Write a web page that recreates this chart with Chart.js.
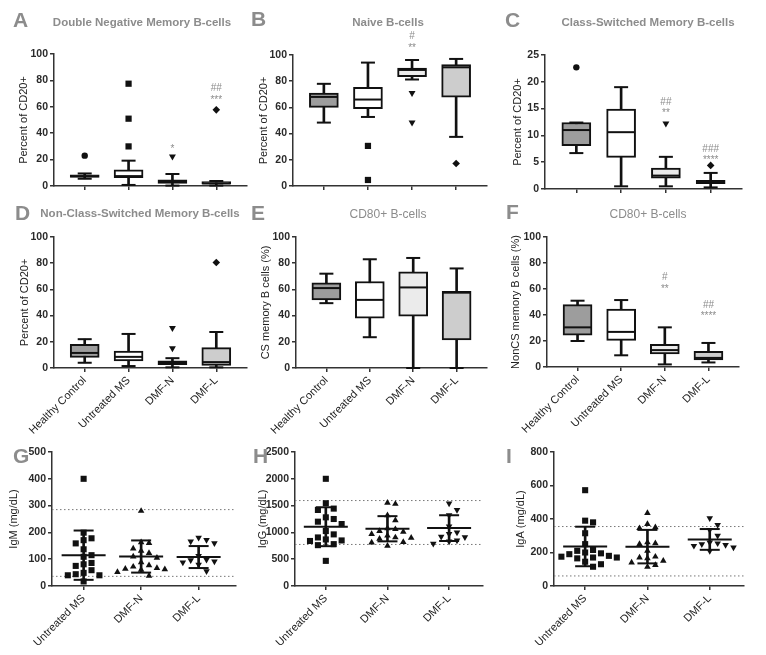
<!DOCTYPE html>
<html>
<head>
<meta charset="utf-8">
<script src="https://cdn.jsdelivr.net/npm/chart.js@4.4.0/dist/chart.umd.min.js"></script>
<style>
body{margin:0;background:#fff;}
#fig{position:relative;width:766px;height:655px;overflow:hidden;background:#fff;font-family:"Liberation Sans",Arial,sans-serif;}
#fig canvas{position:absolute;}
.lt{position:absolute;font-weight:bold;font-size:21px;line-height:1;color:#8c8c8c;}
.tt{position:absolute;line-height:1;color:#8c8c8c;white-space:nowrap;transform:translate(-50%,-50%);}
</style>
</head>
<body>
<div id="fig"></div>
<script>
// groups on the x axis
const groups4 = ['Healthy Control', 'Untreated MS', 'DMF-N', 'DMF-L'];
const groups3 = ['Untreated MS', 'DMF-N', 'DMF-L'];

// box plots: [min, q1, median, q3, max] per group, outliers, significance marks [text, y]
const dnBox = [[5.5,6.5,7.5,8.5,9.5],[0.8,6.3,7.5,12.2,19.2],[0.3,2,3.3,4.6,9.1],[0.3,1.3,2,3.3,3.8]];
const dnOut = [[23],[30,51,77.5],[22.3],[57.7]];
const dnSig = [[],[],[['*',30.4]],[['##',74.2],['***',67.3]]];

const naiveBox = [[48.4,60,68,71,78],[52.7,59,66,75.4,94.2],[81.3,83.5,88.6,90.1,96.2],[37.5,67.8,90.6,92.7,97]];
const naiveOut = [[],[30.6,4.6],[70.9,48.4],[17.2]];
const naiveSig = [[],[],[['#',114],['**',107.6]],[]];

const csBox = [[6.7,8.1,11,12.4,12.4],[0.5,5.9,10.6,14.9,19],[0.5,2,2.5,3.9,6],[0.3,1,1.3,1.6,3]];
const csOut = [[22.7],[],[12.2],[4.4]];
const csSig = [[],[],[['##',16.2],['**',14.6]],[['###',7.5],['****',5.9]]];

const ncsBox = [[4,8,11.5,18,22],[1.5,5.5,8.5,13,26],[0.5,2.5,4,5.5,7.5],[0.5,2,4.5,15.5,27.5]];
const ncsOut = [[],[],[30.5,15],[80.5]];

const cd80csBox = [[49.5,52,61,65,72],[23.5,38,52,66,83],[0,39.5,61.5,73.5,84],[0,21.5,57.5,58.5,76]];
const cd80ncsBox = [[20,24.5,30.5,48,51],[9,20.5,27,44.5,51.5],[2,10,13,17.5,30.5],[3.5,5.5,7,12,18.5]];
const cd80ncsSig = [[],[],[['#',69],['**',62]],[['##',47.4],['****',41]]];

// serum immunoglobulins: individual values, mean, SD, reference range lines
const igmVals = [[400,199,178,171,159,137,115,109,86,81,75,59,49,44,40,40,17],
                 [280,163,160,140,131,123,110,105,88,77,72,67,64,62,60,52,38],
                 [180,172,166,160,112,98,96,92,88,80,55]];
const igmMean = [115,110,108];
const igmSd = [92,60,41];
const igmRef = [285,36];

const iggVals = [[2000,1544,1444,1419,1281,1250,1200,1156,1025,963,906,869,850,840,781,762,469],
                 [1550,1531,1319,1225,1075,1060,1025,1010,969,938,906,900,880,819,810,750],
                 [1540,1420,1320,1110,1000,970,920,910,850,830,790]];
const iggMean = [1106,1068,1080];
const iggSd = [363,235,240];
const iggRef = [1594,775];

const igaVals = [[572,390,380,315,250,215,210,200,195,190,180,175,170,170,165,145,130,115],
                 [435,370,350,345,260,255,250,210,175,170,165,150,140,125,115],
                 [405,365,335,300,260,255,250,245,240,230,210]];
const igaMean = [236,235,278];
const igaSd = [118,100,62];
const igaRef = [355,60];

const FONT = '"Liberation Sans", Arial, sans-serif';
const INK = '#111';
const boxFill = ['#9d9d9d','#ffffff','#ebebeb','#cdcdcd'];
const outStyle = [['circle',0,3.2],['rect',0,4.4],['triangle',180,4],['rectRot',0,3.8]];
const dotStyle = [['rect',0,4.3],['triangle',0,3.8],['triangle',180,3.8]];

const fig = document.getElementById('fig');

const sigPlugin = {
  id: 'sig',
  afterDatasetsDraw(chart, args, opts) {
    const marks = opts.marks || [];
    const {ctx, scales: {x, y}} = chart;
    ctx.save();
    ctx.fillStyle = '#8c8c8c';
    ctx.font = '10px ' + FONT;
    ctx.textAlign = 'center';
    ctx.textBaseline = 'middle';
    marks.forEach((list, i) => list.forEach(([t, v]) => {
      const dy = t[0] === '*' ? 3 : 0;
      ctx.fillText(t, x.getPixelForValue(i + 1), y.getPixelForValue(v) + dy);
    }));
    ctx.restore();
  }
};

function panel(p) {
  const padL = 2, padT = 26, padR = 10, xh = 80;
  const cx = Math.round(p.ytx - 6.6 - padL);
  const cy = p.plot[1] - padT;
  const w = p.plot[2] - cx + padR;
  const h = p.plot[3] - cy + xh;
  const yw = p.plot[0] - cx - padL;
  const cv = document.createElement('canvas');
  cv.width = w; cv.height = h;
  cv.style.left = cx + 'px'; cv.style.top = cy + 'px';
  fig.appendChild(cv);
  new Chart(cv, {
    type: 'bar',
    data: {datasets: p.datasets},
    options: {
      responsive: false, animation: false,
      layout: {padding: {left: padL, top: padT, right: padR, bottom: 0}},
      plugins: {legend: {display: false}, tooltip: {enabled: false}, sig: {marks: p.sig || []}},
      scales: {
        x: {
          type: 'linear', min: p.xmin, max: p.xmax, offset: false,
          afterBuildTicks: s => { s.ticks = p.cats.map((c, i) => ({value: i + 1})); },
          afterFit: s => { s.height = xh; },
          grid: {drawOnChartArea: false, offset: false, tickLength: 4, color: '#333', lineWidth: 1.5},
          border: {color: '#333', width: 1.5},
          ticks: {display: p.showX, autoSkip: false, minRotation: 45, maxRotation: 45, padding: 2,
                  color: '#222', font: {family: FONT, size: 11}, callback: v => p.cats[v - 1]}
        },
        y: {
          min: 0, max: p.ymax,
          afterFit: s => { s.width = yw; },
          ticks: {stepSize: p.step, padding: 2, color: '#2a2a2a', format: {useGrouping: false},
                  font: {family: FONT, size: 10.5, weight: 'bold'}},
          grid: {drawOnChartArea: false, tickLength: 4, color: '#333', lineWidth: 1.5},
          border: {color: '#333', width: 1.5},
          title: {display: true, text: p.ytitle, color: '#222', font: {family: FONT, size: 11}, padding: 0}
        }
      }
    },
    plugins: [sigPlugin]
  });
}

function boxSets(box, out) {
  const ds = [
    {type: 'bar', order: 5, grouped: false, barThickness: 2, backgroundColor: INK, borderWidth: 0,
     data: box.map((b, i) => ({x: i + 1, y: [b[0], b[4]]}))},
    {type: 'bar', order: 4, grouped: false, barThickness: 29, backgroundColor: boxFill,
     borderColor: INK, borderWidth: 2, borderSkipped: false,
     data: box.map((b, i) => ({x: i + 1, y: [b[1], b[3]]}))},
    {type: 'scatter', order: 3, pointStyle: 'line', pointRadius: 14, pointBorderColor: INK, pointBorderWidth: 2, clip: false,
     data: box.map((b, i) => ({x: i + 1, y: b[2]}))},
    {type: 'scatter', order: 3, pointStyle: 'line', pointRadius: 7, pointBorderColor: INK, pointBorderWidth: 2, clip: false,
     data: box.flatMap((b, i) => [{x: i + 1, y: b[0]}, {x: i + 1, y: b[4]}])}
  ];
  (out || []).forEach((vals, i) => {
    if (!vals.length) return;
    ds.push({type: 'scatter', order: 1, pointStyle: outStyle[i][0], rotation: outStyle[i][1],
      pointRadius: outStyle[i][2], pointBackgroundColor: INK, pointBorderWidth: 0, clip: false,
      data: vals.map(v => ({x: i + 1, y: v}))});
  });
  return ds;
}

// simple beeswarm spread so dots with close values sit side by side
function swarm(vals, pxX, pxY) {
  const step = 8.5, size = 7, placed = [];
  return vals.map(v => {
    let k = 0, off = 0;
    for (;; k++) {
      off = (k % 2 ? 1 : -1) * Math.ceil(k / 2) * step;
      if (placed.every(q => Math.abs(q[0] - off) >= size || Math.abs(q[1] - v) * pxY >= size)) break;
    }
    placed.push([off, v]);
    return off / pxX;
  });
}

function dotSets(vals, mean, sd, ref, p) {
  const pxX = (p.plot[2] - p.plot[0]) / (p.xmax - p.xmin);
  const pxY = (p.plot[3] - p.plot[1]) / p.ymax;
  const ds = ref.map(r => ({type: 'line', order: 10, borderColor: '#777', borderWidth: 1, borderDash: [1.5, 2.5],
    pointRadius: 0, data: [{x: p.xmin, y: r}, {x: p.xmax, y: r}]}));
  vals.forEach((g, i) => {
    const offs = swarm(g, pxX, pxY);
    ds.push({type: 'scatter', order: 5, pointStyle: dotStyle[i][0], rotation: dotStyle[i][1],
      pointRadius: dotStyle[i][2], pointBackgroundColor: INK, pointBorderWidth: 0, clip: false,
      data: g.map((v, j) => ({x: i + 1 + offs[j], y: v}))});
  });
  ds.push({type: 'bar', order: 2, grouped: false, barThickness: 2, backgroundColor: INK, borderWidth: 0,
    data: mean.map((m, i) => ({x: i + 1, y: [m - sd[i], m + sd[i]]}))});
  ds.push({type: 'scatter', order: 1, pointStyle: 'line', pointRadius: 22, pointBorderColor: INK, pointBorderWidth: 2,
    data: mean.map((m, i) => ({x: i + 1, y: m}))});
  ds.push({type: 'scatter', order: 1, pointStyle: 'line', pointRadius: 10, pointBorderColor: INK, pointBorderWidth: 2,
    data: mean.flatMap((m, i) => [{x: i + 1, y: m - sd[i]}, {x: i + 1, y: m + sd[i]}])});
  return ds;
}

function boxPanel(plot, ytx, ymax, step, ytitle, showX, box, out, sig) {
  panel({plot, ytx, ymax, step, ytitle, showX, cats: groups4, xmin: 0.3, xmax: 4.7,
         datasets: boxSets(box, out), sig});
}

function dotPanel(plot, ytx, ymax, step, ytitle, xmin, xmax, vals, mean, sd, ref) {
  const p = {plot, ytx, ymax, step, ytitle, showX: true, cats: groups3, xmin, xmax};
  p.datasets = dotSets(vals, mean, sd, ref, p);
  panel(p);
}

boxPanel([54,54,253,186], 24, 100, 20, 'Percent of CD20+', false, dnBox, dnOut, dnSig);
boxPanel([293,55,493,186], 264, 100, 20, 'Percent of CD20+', false, naiveBox, naiveOut, naiveSig);
boxPanel([545,55,748,189], 518, 25, 5, 'Percent of CD20+', false, csBox, csOut, csSig);
boxPanel([54,237,253,368], 25, 100, 20, 'Percent of CD20+', true, ncsBox, ncsOut, []);
boxPanel([296,237,493,368], 266, 100, 20, 'CS memory B cells (%)', true, cd80csBox, [], []);
boxPanel([547,237,745,367], 516, 100, 20, 'NonCS memory B cells (%)', true, cd80ncsBox, [], cd80ncsSig);
dotPanel([52,452,250,586], 14, 500, 100, 'IgM (mg/dL)', 0.45, 3.65, igmVals, igmMean, igmSd, igmRef);
dotPanel([295,452,497,586], 263, 2500, 500, 'IgG (mg/dL)', 0.5, 3.55, iggVals, iggMean, iggSd, iggRef);
dotPanel([554,452,758,586], 521, 800, 200, 'IgA (mg/dL)', 0.5, 3.55, igaVals, igaMean, igaSd, igaRef);

// panel letters and titles
function letter(t, x, y) {
  const d = document.createElement('div');
  d.className = 'lt'; d.textContent = t;
  d.style.left = x + 'px'; d.style.top = (y - 3) + 'px';
  fig.appendChild(d);
}
function title(t, x, y, bold, size) {
  const d = document.createElement('div');
  d.className = 'tt'; d.textContent = t;
  d.style.left = x + 'px'; d.style.top = y + 'px';
  d.style.fontWeight = bold ? 'bold' : 'normal';
  d.style.fontSize = size + 'px';
  fig.appendChild(d);
}
letter('A', 13, 12); letter('B', 251, 11); letter('C', 505, 12);
letter('D', 15, 205); letter('E', 251, 205); letter('F', 506, 204);
letter('G', 13, 448); letter('H', 253, 448); letter('I', 506, 448);
title('Double Negative Memory B-cells', 142, 23, true, 11.5);
title('Naive B-cells', 388, 23, true, 11.5);
title('Class-Switched Memory B-cells', 648, 23, true, 11.5);
title('Non-Class-Switched Memory B-cells', 140, 214, true, 11.5);
title('CD80+ B-cells', 388, 214, false, 12);
title('CD80+ B-cells', 648, 214, false, 12);
</script>
</body>
</html>
